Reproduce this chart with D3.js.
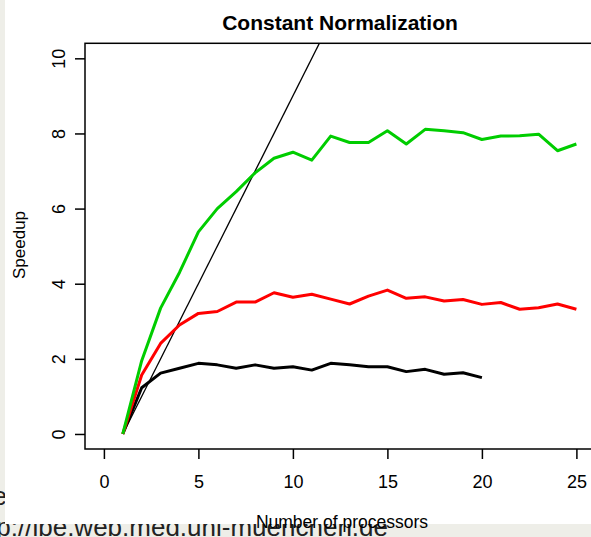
<!DOCTYPE html>
<html><head><meta charset="utf-8">
<script src="https://cdn.jsdelivr.net/npm/d3@7"></script>
<style>body{margin:0;background:#eeeee8;overflow:hidden} svg{display:block}</style>
</head><body><svg id="c" width="591" height="537"></svg>
<script>
const procs = [1,2,3,4,5,6,7,8,9,10,11,12,13,14,15,16,17,18,19,20,21,22,23,24,25];
const greenVals = [0,1.95,3.35,4.3,5.38,6.0,6.45,6.95,7.34,7.5,7.29,7.93,7.76,7.76,8.07,7.72,8.11,8.07,8.02,7.84,7.93,7.94,7.98,7.54,7.72];
const redVals = [0,1.57,2.41,2.9,3.21,3.26,3.51,3.51,3.76,3.64,3.72,3.59,3.46,3.67,3.83,3.61,3.65,3.54,3.58,3.45,3.5,3.32,3.36,3.46,3.32];
const blackProcs = [1,2,3,4,5,6,7,8,9,10,11,12,13,14,15,16,17,18,19,20];
const blackVals = [0,1.23,1.62,1.75,1.88,1.84,1.75,1.84,1.75,1.79,1.70,1.88,1.84,1.79,1.79,1.66,1.72,1.59,1.63,1.50];
const idealProcs = [1, 26];
const idealVals = [0, 25];
const xTicks = [0,5,10,15,20,25];
const yTicks = [0,2,4,6,8,10];
const titleText = "Constant Normalization";
const xLabel = "Number of processors";
const yLabel = "Speedup";

const svg = d3.select("#c");
const font = "'Liberation Sans', Arial, Helvetica, sans-serif";

// page background text (behind the chart image)
svg.append("rect").attr("width",591).attr("height",537).attr("fill","#eeeee8");
svg.append("text").attr("x",7).attr("y",505).attr("text-anchor","end")
  .attr("font-family",font).attr("font-size",26).attr("fill","#222").text("e");
svg.append("text").attr("x",388).attr("y",536).attr("text-anchor","end")
  .attr("font-family",font).attr("font-size",26).attr("fill","#222").text("http://ibe.web.med.uni-muenchen.de");
// chart image white area
svg.append("rect").attr("x",5).attr("y",0).attr("width",586).attr("height",524).attr("fill","#fff");

const x = d3.scaleLinear().domain([-1,26]).range([85,595.3]);
const y = d3.scaleLinear().domain([-0.4,10.4]).range([449,43.3]);

svg.append("defs").append("clipPath").attr("id","plotclip")
  .append("rect").attr("x",85).attr("y",43.3).attr("width",510.3).attr("height",405.7);

const g = svg.append("g").attr("clip-path","url(#plotclip)");
const line = d3.line();

g.append("path").attr("d", line(idealProcs.map((p,i)=>[x(p),y(idealVals[i])])))
  .attr("fill","none").attr("stroke","#000").attr("stroke-width",1.3);
g.append("path").attr("d", line(blackProcs.map((p,i)=>[x(p),y(blackVals[i])])))
  .attr("fill","none").attr("stroke","#000").attr("stroke-width",3).attr("stroke-linejoin","round");
g.append("path").attr("d", line(procs.map((p,i)=>[x(p),y(redVals[i])])))
  .attr("fill","none").attr("stroke","#ff0000").attr("stroke-width",3).attr("stroke-linejoin","round");
g.append("path").attr("d", line(procs.map((p,i)=>[x(p),y(greenVals[i])])))
  .attr("fill","none").attr("stroke","#00cd00").attr("stroke-width",3).attr("stroke-linejoin","round");

// box
svg.append("rect").attr("x",85).attr("y",43.3).attr("width",520).attr("height",405.7)
  .attr("fill","none").attr("stroke","#000").attr("stroke-width",1.5);

// x axis
const xa = svg.append("g").attr("transform","translate(0,449)")
  .call(d3.axisBottom(x).tickValues(xTicks).tickSize(10).tickPadding(16).tickFormat(d3.format("d")));
xa.select(".domain").remove();
xa.selectAll("line").attr("stroke","#000").attr("stroke-width",1.5);
xa.selectAll("text").attr("font-family",font).attr("font-size",18).attr("fill","#000");

// y axis
const ya = svg.append("g").attr("transform","translate(85,0)")
  .call(d3.axisLeft(y).tickValues(yTicks).tickSize(10).tickFormat(d3.format("d")));
ya.select(".domain").remove();
ya.selectAll("line").attr("stroke","#000").attr("stroke-width",1.5);
ya.selectAll("text").attr("font-family",font).attr("font-size",18).attr("fill","#000")
  .attr("x",null).attr("dy",null).attr("text-anchor","middle")
  .attr("transform","translate(-20,0) rotate(-90)");

// labels
svg.append("text").attr("x",340).attr("y",30).attr("text-anchor","middle")
  .attr("font-family",font).attr("font-weight","bold").attr("font-size",21).text(titleText);
svg.append("text").attr("x",342).attr("y",528).attr("text-anchor","middle")
  .attr("font-family",font).attr("font-size",17.5).text(xLabel);
svg.append("text").attr("transform","translate(25,245) rotate(-90)").attr("text-anchor","middle")
  .attr("font-family",font).attr("font-size",17).text(yLabel);
</script></body></html>
